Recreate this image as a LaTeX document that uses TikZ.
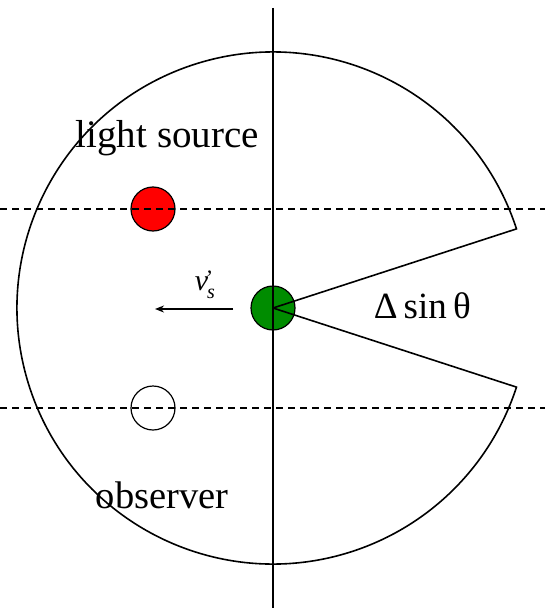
\documentclass[tikz,border=0pt]{standalone}
\usepackage{fontspec}
\setmainfont{Liberation Serif}
\usetikzlibrary{arrows.meta}
\definecolor{srcred}{RGB}{255,0,0}
\definecolor{cengreen}{RGB}{0,140,0}
\begin{document}
\begin{tikzpicture}[x=1pt,y=-1pt,line width=1.6pt,
  dashline/.style={line width=1.6pt,dash pattern=on 7pt off 5pt},
  ball/.style={circle,draw,line width=1.2pt,minimum size=44pt,inner sep=0pt},
  lbl/.style={anchor=base west,inner sep=0pt,font=\fontsize{39}{42}\selectfont}]
\useasboundingbox (0,0) rectangle (545,610);
% balls
\node[ball,fill=srcred] (src) at (153,209) {};
\node[ball,fill=white] (obs) at (153,408) {};
\node[ball,fill=cengreen] (cen) at (273,308) {};
% big circle with wedge cut out
\draw (cen.center) -- ++(-18:256) arc[start angle=-18,end angle=-342,radius=256] -- (cen.center);
% axes
\coordinate (vtop) at (273,8);
\coordinate (vbot) at (273,608);
\draw (vtop) -- (vbot);
\coordinate (d1l) at (0,209); \coordinate (d1r) at (545,209);
\coordinate (d2l) at (0,408); \coordinate (d2r) at (545,408);
\draw[dashline] (d1l) -- (d1r);
\draw[dashline] (d2l) -- (d2r);
% velocity arrow
\coordinate (vt) at (233,309);
\coordinate (vh) at (155,309);
\draw[-{Stealth[length=9pt,width=7pt]}] (vt) -- (vh);
\node[anchor=base west,inner sep=0pt,font=\fontsize{30}{32}\selectfont\itshape] (vlab) at (194,290) {v\kern-1pt\raisebox{-8pt}{\fontsize{20}{20}\selectfont s}\kern-9pt\raisebox{5pt}{\fontsize{22}{22}\selectfont\upshape ’}};
% labels
\node[lbl] (lsrc) at (75,147) {light source};
\node[lbl,font=\fontsize{38.5}{42}\selectfont] (lobs) at (95,508) {observer};
\node[lbl,font=\fontsize{37}{40}\selectfont] (ldelta) at (373,318) {Δ\,sin\,θ};
\end{tikzpicture}
\end{document}
